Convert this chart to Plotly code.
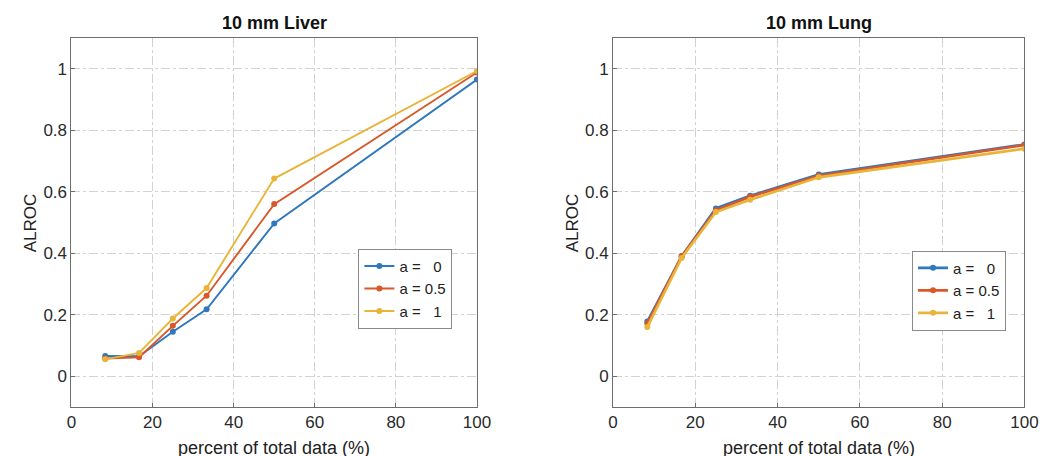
import plotly.graph_objects as go

# ---- data ----
pct = [8.33, 16.67, 25, 33.33, 50, 100]
series_names = ["a =   0", "a = 0.5", "a =   1"]

liver_a0 = [0.066, 0.065, 0.145, 0.218, 0.497, 0.965]
liver_a05 = [0.058, 0.062, 0.164, 0.262, 0.560, 0.988]
liver_a1 = [0.055, 0.076, 0.188, 0.287, 0.643, 0.993]

lung_a0 = [0.178, 0.390, 0.546, 0.587, 0.656, 0.754]
lung_a05 = [0.172, 0.390, 0.540, 0.584, 0.652, 0.752]
lung_a1 = [0.160, 0.385, 0.534, 0.574, 0.647, 0.740]

x_ticks = [0, 20, 40, 60, 80, 100]
y_ticks = [0, 0.2, 0.4, 0.6, 0.8, 1]
y_ticklabels = ["0", "0.2", "0.4", "0.6", "0.8", "1"]

titles = ["10 mm Liver", "10 mm Lung"]
x_label = "percent of total data (%)"
y_label = "ALROC"

colors = ["#2f78be", "#d9582a", "#e8b53a"]

fig = go.Figure()

liver = [liver_a0, liver_a05, liver_a1]
lung = [lung_a0, lung_a05, lung_a1]

for i, (name, ys) in enumerate(zip(series_names, liver)):
    fig.add_trace(go.Scatter(
        x=pct, y=ys, name=name, mode="lines+markers",
        line=dict(color=colors[i], width=1.9),
        marker=dict(color=colors[i], size=6),
        xaxis="x", yaxis="y", legend="legend"))

for i, (name, ys) in enumerate(zip(series_names, lung)):
    fig.add_trace(go.Scatter(
        x=pct, y=ys, name=name, mode="lines+markers",
        line=dict(color=colors[i], width=2.6),
        marker=dict(color=colors[i], size=6),
        xaxis="x2", yaxis="y2", legend="legend2"))

FONT = "Liberation Sans, Arial"

axis_common = dict(
    showline=True, linecolor="#6e6e6e", linewidth=1, mirror=True,
    showgrid=True, gridcolor="#d2d2d2", griddash="dashdot", gridwidth=1,
    ticks="inside", ticklen=4, tickcolor="#6e6e6e",
    tickfont=dict(family=FONT, size=17, color="#2a2a2a"),
    zeroline=False,
)

legend_common = dict(
    xanchor="left", yanchor="top",
    bgcolor="white", bordercolor="#8a8a8a", borderwidth=1,
    font=dict(family=FONT, size=15, color="#222222"),
    tracegroupgap=0, itemwidth=30,
)

fig.update_layout(
    width=1050, height=456,
    margin=dict(l=0, r=0, t=0, b=0),
    paper_bgcolor="white", plot_bgcolor="white",
    font=dict(family=FONT, color="#222222"),
    xaxis=dict(domain=[0.0567, 0.450], range=[0, 100], tickvals=x_ticks,
               anchor="y", **axis_common),
    yaxis=dict(domain=[0.125, 0.934], range=[-0.1, 1.1], tickvals=y_ticks,
               ticktext=y_ticklabels, anchor="x", **axis_common),
    xaxis2=dict(domain=[0.582, 0.981], range=[0, 100], tickvals=x_ticks,
                anchor="y2", **axis_common),
    yaxis2=dict(domain=[0.125, 0.934], range=[-0.1, 1.1], tickvals=y_ticks,
                ticktext=y_ticklabels, anchor="x2", **axis_common),
    legend=dict(x=0.335, y=0.472, **legend_common),
    legend2=dict(x=0.872, y=0.468, **legend_common),
    showlegend=True,
)

annotations = []
for cx, t in [((0.0567 + 0.450) / 2, titles[0]), ((0.582 + 0.981) / 2, titles[1])]:
    annotations.append(dict(x=cx, y=1 - 15 / 456, xref="paper", yref="paper",
                            text="<b>%s</b>" % t, showarrow=False,
                            xanchor="center", yanchor="middle",
                            font=dict(size=18, color="#111111")))
    annotations.append(dict(x=cx, y=1 - 440 / 456, xref="paper", yref="paper",
                            text=x_label, showarrow=False,
                            xanchor="center", yanchor="middle",
                            font=dict(size=18, color="#222222")))
for lx in [18 / 1050, 570 / 1050]:
    annotations.append(dict(x=lx, y=(0.125 + 0.934) / 2, xref="paper", yref="paper",
                            text=y_label, showarrow=False, textangle=-90,
                            xanchor="center", yanchor="middle",
                            font=dict(size=17, color="#222222")))
fig.update_layout(annotations=annotations)

fig.write_html("out.html")
